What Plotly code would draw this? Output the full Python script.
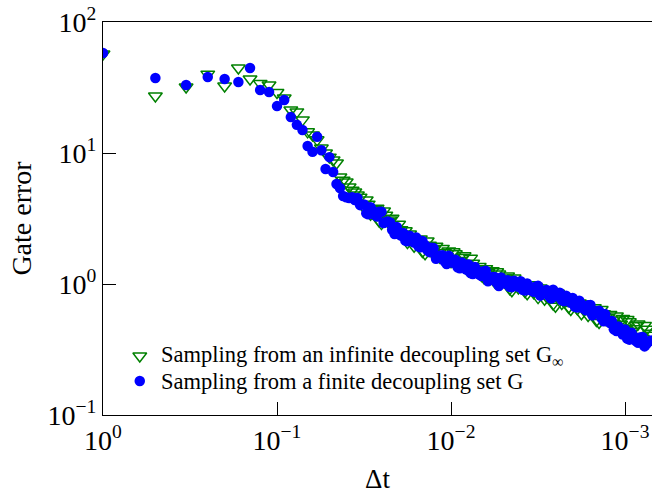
import plotly.graph_objects as go

# ---- data: time step Δt and gate error ----
dt_sparse = [1, 0.5, 0.333, 0.25, 0.2, 0.1667, 0.1429, 0.125, 0.1111, 0.1,
             0.0909, 0.0833, 0.0769, 0.0714, 0.0667, 0.0625, 0.0588, 0.0556, 0.0526, 0.05,
             0.0476, 0.0455, 0.0435, 0.0417, 0.04, 0.0385, 0.037, 0.0357, 0.0345, 0.0333]

dt_dense_a = [0.0316, 0.0299, 0.0282, 0.0266, 0.0251, 0.0237, 0.0224, 0.0211, 0.0200, 0.0188,
              0.0178, 0.0168, 0.0158, 0.0150, 0.0141, 0.0133, 0.0126, 0.0119, 0.0112, 0.0106,
              0.0100, 0.00944, 0.00891, 0.00841, 0.00794, 0.00750, 0.00708, 0.00668, 0.00631, 0.00596,
              0.00562, 0.00531, 0.00501, 0.00473, 0.00447, 0.00422, 0.00398, 0.00376, 0.00355, 0.00335,
              0.00316, 0.00299, 0.00282, 0.00266, 0.00251, 0.00237, 0.00224, 0.00211, 0.00200, 0.00188,
              0.00178, 0.00168, 0.00158, 0.00150, 0.00141, 0.00133, 0.00126, 0.00119, 0.00112, 0.00106,
              0.00100, 0.000944, 0.000891, 0.000841, 0.000794, 0.000750, 0.000708]

dt_dense_b = [0.0307, 0.0290, 0.0274, 0.0259, 0.0244, 0.0231, 0.0218, 0.0205, 0.0194, 0.0183,
              0.0173, 0.0163, 0.0154, 0.0146, 0.0137, 0.0130, 0.0122, 0.0116, 0.0109, 0.0103,
              0.00972, 0.00917, 0.00866, 0.00818, 0.00772, 0.00729, 0.00688, 0.00649, 0.00613, 0.00579,
              0.00546, 0.00516, 0.00487, 0.00460, 0.00434, 0.00410, 0.00387, 0.00365, 0.00345, 0.00325,
              0.00307, 0.00290, 0.00274, 0.00259, 0.00244, 0.00231, 0.00218, 0.00205, 0.00194, 0.00183,
              0.00173, 0.00163, 0.00154, 0.00146, 0.00137, 0.00130, 0.00122, 0.00116, 0.00109, 0.00103,
              0.000972, 0.000917, 0.000866, 0.000818, 0.000772, 0.000729]

# infinite decoupling set (green triangles)
err_inf_sparse = [57, 27.2, 31.9, 40, 32.5, 44.5, 36.7, 34, 33, 29,
                  26.3, 21.3, 20.6, 17.9, 14.5, 13.7, 12.6, 10.9, 10.0, 9.3,
                  8.85, 8.4, 6.56, 6.2, 6.0, 5.5, 5.2, 5.04, 4.78, 4.6]
err_inf_dense_a = [3.83, 4.07, 3.50, 3.78, 2.89, 3.35, 3.08, 2.65, 2.86, 2.36,
                   2.07, 2.29, 2.03, 2.21, 1.70, 1.98, 1.84, 1.66, 1.87, 1.62,
                   1.48, 1.70, 1.51, 1.64, 1.26, 1.44, 1.30, 1.16, 1.31, 1.14,
                   1.04, 1.19, 1.05, 1.15, 0.887, 1.04, 0.964, 0.875, 0.989, 0.857,
                   0.787, 0.902, 0.800, 0.875, 0.676, 0.792, 0.733, 0.664, 0.748, 0.646,
                   0.593, 0.678, 0.601, 0.658, 0.508, 0.594, 0.553, 0.502, 0.569, 0.493,
                   0.452, 0.514, 0.455, 0.495, 0.384, 0.451, 0.421]
err_inf_dense_b = [4.38, 3.40, 3.68, 3.02, 3.61, 3.00, 3.17, 2.50, 2.60, 2.55,
                   2.41, 1.94, 2.14, 1.77, 2.13, 1.78, 1.94, 1.60, 1.74, 1.79,
                   1.76, 1.44, 1.59, 1.31, 1.57, 1.28, 1.36, 1.12, 1.22, 1.26,
                   1.24, 1.01, 1.11, 0.920, 1.11, 0.933, 1.02, 0.843, 0.920, 0.948,
                   0.933, 0.766, 0.846, 0.702, 0.849, 0.711, 0.773, 0.638, 0.695, 0.715,
                   0.703, 0.575, 0.636, 0.527, 0.638, 0.535, 0.585, 0.484, 0.530, 0.545,
                   0.535, 0.436, 0.480, 0.397, 0.483, 0.406]

# finite decoupling set (blue dots)
err_fin_sparse = [58, 37.4, 33, 38, 36.7, 34.8, 44.5, 30.3, 29.2, 22.8,
                  25.4, 18.8, 16.4, 15.0, 11.3, 10.2, 13.3, 10.5, 7.55, 9.3,
                  7.16, 5.8, 5.4, 4.7, 4.6, 4.53, 4.6, 4.38, 4.53, 4.0]
err_fin_dense_a = [4.04, 3.41, 3.63, 3.28, 3.56, 2.97, 2.95, 2.41, 2.42, 2.45,
                   2.12, 2.25, 2.26, 1.91, 1.98, 1.75, 1.88, 1.61, 1.66, 1.42,
                   1.49, 1.53, 1.32, 1.41, 1.41, 1.19, 1.27, 1.15, 1.26, 1.09,
                   1.13, 0.964, 1.03, 1.07, 0.946, 1.03, 1.05, 0.893, 0.957, 0.873,
                   0.968, 0.855, 0.899, 0.776, 0.826, 0.857, 0.740, 0.783, 0.783, 0.661,
                   0.700, 0.631, 0.692, 0.603, 0.624, 0.519, 0.526, 0.522, 0.437, 0.450,
                   0.449, 0.376, 0.397, 0.356, 0.394, 0.351, 0.370]
err_fin_dense_b = [3.47, 3.86, 3.37, 3.56, 2.92, 3.00, 2.59, 2.72, 2.34, 2.15,
                   2.34, 2.07, 1.94, 2.13, 1.82, 1.89, 1.56, 1.65, 1.49, 1.64,
                   1.45, 1.34, 1.46, 1.29, 1.21, 1.35, 1.18, 1.25, 1.05, 1.13,
                   1.02, 1.12, 1.01, 0.951, 1.06, 0.951, 0.904, 1.01, 0.893, 0.957,
                   0.815, 0.887, 0.811, 0.904, 0.807, 0.752, 0.815, 0.718, 0.671, 0.745,
                   0.649, 0.687, 0.578, 0.620, 0.552, 0.589, 0.504, 0.451, 0.474, 0.412,
                   0.383, 0.424, 0.367, 0.390, 0.334, 0.364]

x_ticks = [1, 0.1, 0.01, 0.001]
x_ticktext = ["10<sup>0</sup>", "10<sup>−1</sup>", "10<sup>−2</sup>", "10<sup>−3</sup>"]
y_ticks = [0.1, 1, 10, 100]
y_ticktext = ["10<sup>−1</sup>", "10<sup>0</sup>", "10<sup>1</sup>", "10<sup>2</sup>"]

label_inf = "Sampling from an infinite decoupling set G<sub>∞</sub>"
label_fin = "Sampling from a finite decoupling set G"
x_title = "Δt"
y_title = "Gate error"

FONT = "Liberation Serif"
GREEN = "#008000"
BLUE = "#0000ff"

tri = dict(symbol="triangle-down-open", size=12, color=GREEN, line=dict(width=1.5, color=GREEN))
dot = dict(symbol="circle", size=10.5, color=BLUE, line=dict(width=0))

fig = go.Figure()
fig.add_trace(go.Scatter(
    x=dt_sparse + dt_dense_a + dt_dense_b,
    y=err_inf_sparse + err_inf_dense_a + err_inf_dense_b,
    mode="markers", name=label_inf, marker=tri, showlegend=False,
))
fig.add_trace(go.Scatter(
    x=dt_sparse + dt_dense_a + dt_dense_b,
    y=err_fin_sparse + err_fin_dense_a + err_fin_dense_b,
    mode="markers", name=label_fin, marker=dot, showlegend=False,
))

# legend keys drawn on a hidden overlay axis (unit box over the plot area)
legend_key_x = [0.067, 0.067]
legend_key_y = [0.150, 0.0865]
fig.add_trace(go.Scatter(x=[legend_key_x[0]], y=[legend_key_y[0]], xaxis="x2", yaxis="y2",
                         mode="markers", marker=tri, showlegend=False, hoverinfo="skip"))
fig.add_trace(go.Scatter(x=[legend_key_x[1]], y=[legend_key_y[1]], xaxis="x2", yaxis="y2",
                         mode="markers", marker=dot, showlegend=False, hoverinfo="skip"))
for lbl, yy in [(label_inf, legend_key_y[0]), (label_fin, legend_key_y[1])]:
    fig.add_annotation(text=lbl, x=0.102, y=yy, xref="paper", yref="paper",
                       xanchor="left", yanchor="middle", showarrow=False,
                       font=dict(family=FONT, size=22.5, color="black"))

fig.update_layout(
    width=652, height=494,
    margin=dict(l=103, r=0, t=22, b=79),
    paper_bgcolor="white", plot_bgcolor="white",
    font=dict(family=FONT, color="black", size=28),
    showlegend=False,
    xaxis2=dict(overlaying="x", range=[0, 1], visible=False, fixedrange=True),
    yaxis2=dict(overlaying="y", range=[0, 1], visible=False, fixedrange=True),
    xaxis=dict(
        type="log", range=[0, -3.155],
        tickvals=x_ticks, ticktext=x_ticktext,
        ticks="inside", ticklen=13, tickwidth=1.3, tickcolor="black",
        showline=True, linecolor="black", linewidth=1.3, mirror=True,
        showgrid=False, zeroline=False,
        title=dict(text=x_title, font=dict(family=FONT, size=27), standoff=20),
        tickfont=dict(family=FONT, size=28),
    ),
    yaxis=dict(
        type="log", range=[-1, 2],
        tickvals=y_ticks, ticktext=y_ticktext,
        ticks="inside", ticklen=13, tickwidth=1.3, tickcolor="black",
        showline=True, linecolor="black", linewidth=1.3,
        showgrid=False, zeroline=False,
        title=dict(text=y_title, font=dict(family=FONT, size=28), standoff=7),
        tickfont=dict(family=FONT, size=28),
    ),
)

fig.write_html("out.html")
